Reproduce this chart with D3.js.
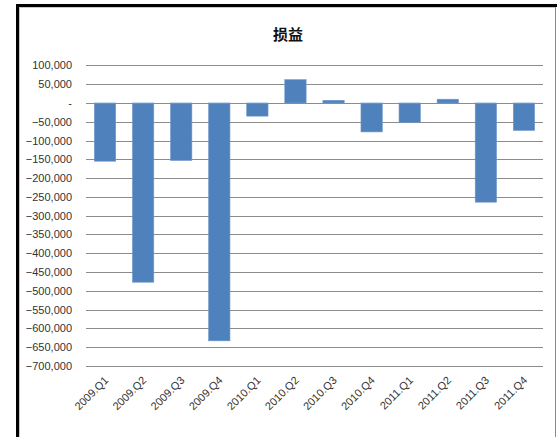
<!DOCTYPE html>
<html>
<head>
<meta charset="utf-8">
<script src="https://cdn.jsdelivr.net/npm/d3@7"></script>
<style>
  body { margin: 0; background: #fff; }
  text { font-family: "Liberation Sans Narrow", "Liberation Sans", "DejaVu Sans Condensed", sans-serif; }
</style>
</head>
<body>
<script>
var width = 557;
var height = 437;

// quarters and profit/loss values
var quarters = ["2009.Q1", "2009.Q2", "2009.Q3", "2009.Q4",
                "2010.Q1", "2010.Q2", "2010.Q3", "2010.Q4",
                "2011.Q1", "2011.Q2", "2011.Q3", "2011.Q4"];
var values = [-155000, -477000, -153000, -633000,
              -35000, 62000, 7000, -77000,
              -52000, 10000, -264000, -73000];
var yTicks = [100000, 50000, 0, -50000, -100000, -150000, -200000, -250000,
              -300000, -350000, -400000, -450000, -500000, -550000, -600000,
              -650000, -700000];
var title = "损益";

var plot = {left: 86, right: 543, top: 65.4, bottom: 366};

var svg = d3.select("body")
            .append("svg")
            .attr("width", width)
            .attr("height", height);

// frame: thick black top/left, thin gray inner
svg.append("rect").attr("x", 0).attr("y", 0).attr("width", width).attr("height", height).attr("fill", "#fff");
svg.append("rect").attr("x", 16).attr("y", 4).attr("width", 541).attr("height", 3).attr("fill", "#000");
svg.append("rect").attr("x", 16).attr("y", 4).attr("width", 3).attr("height", 433).attr("fill", "#000");
svg.append("line").attr("x1", 19.5).attr("y1", 7).attr("x2", 19.5).attr("y2", height)
   .attr("stroke", "#c8c8c8").attr("stroke-width", 1);
svg.append("line").attr("x1", 19).attr("y1", 7.5).attr("x2", 556).attr("y2", 7.5)
   .attr("stroke", "#c8c8c8").attr("stroke-width", 1);
svg.append("line").attr("x1", 555.5).attr("y1", 7).attr("x2", 555.5).attr("y2", height)
   .attr("stroke", "#8a8a8a").attr("stroke-width", 1);

var x = d3.scaleBand()
          .domain(quarters)
          .range([plot.left, plot.right])
          .paddingInner(0.44)
          .paddingOuter(0.22);

var y = d3.scaleLinear()
          .domain([-700000, 100000])
          .range([plot.bottom, plot.top]);

// gridlines
svg.append("g")
   .selectAll("line")
   .data(yTicks)
   .enter().append("line")
   .attr("x1", plot.left)
   .attr("x2", plot.right)
   .attr("y1", function(d) { return Math.round(y(d)) + 0.5; })
   .attr("y2", function(d) { return Math.round(y(d)) + 0.5; })
   .attr("stroke", "#8c8c8c")
   .attr("stroke-width", 1);

// y axis labels
var fmt = d3.format(",");
svg.append("g")
   .selectAll("text")
   .data(yTicks)
   .enter().append("text")
   .attr("x", 72)
   .attr("y", function(d) { return y(d) + 4; })
   .attr("text-anchor", "end")
   .attr("font-size", 11)
   .attr("fill", "#333")
   .text(function(d) { return d === 0 ? "-" : fmt(d); });

// bars
svg.append("g")
   .selectAll("rect")
   .data(values)
   .enter().append("rect")
   .attr("x", function(d, i) { return x(quarters[i]); })
   .attr("width", x.bandwidth())
   .attr("y", function(d) { return y(Math.max(0, d)); })
   .attr("height", function(d) { return Math.abs(y(d) - y(0)); })
   .attr("fill", "#4f81bd")
   .attr("stroke", "#6f97c8")
   .attr("stroke-width", 0.6);

// zero axis line
svg.append("line")
   .attr("x1", plot.left).attr("x2", plot.right)
   .attr("y1", Math.round(y(0)) + 0.5).attr("y2", Math.round(y(0)) + 0.5)
   .attr("stroke", "#8c8c8c");

// x labels rotated
svg.append("g")
   .selectAll("text")
   .data(quarters)
   .enter().append("text")
   .attr("transform", function(d) {
     var cx = x(d) + x.bandwidth() / 2 + 4;
     return "translate(" + cx + "," + 381 + ") rotate(-45)";
   })
   .attr("text-anchor", "end")
   .attr("font-size", 11)
   .attr("fill", "#333")
   .text(function(d) { return d; });

// title
svg.append("text")
   .attr("x", 288)
   .attr("y", 40)
   .attr("text-anchor", "middle")
   .attr("font-size", 15)
   .attr("font-weight", "bold")
   .style("font-family", "'Noto Sans CJK SC', sans-serif")
   .attr("fill", "#111")
   .text(title);
</script>
</body>
</html>
